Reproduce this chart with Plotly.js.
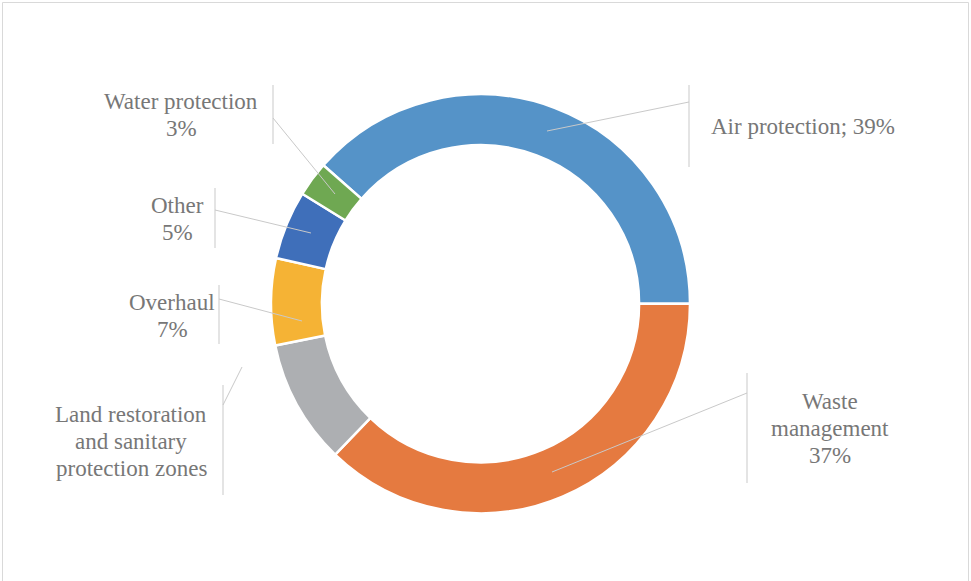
<!DOCTYPE html>
<html>
<head>
<meta charset="utf-8">
<script src="https://cdn.plot.ly/plotly-3.0.1.min.js"></script>
<style>html,body{margin:0;padding:0;background:#fff;}#chart{width:971px;height:581px;}</style>
</head>
<body>
<div id="chart"></div>
<script>
// ---- data ----
const categories = ["Air protection", "Waste management", "Land restoration and sanitary protection zones", "Overhaul", "Other", "Water protection"];
const shares = [38.5, 37.2, 9.6, 6.7, 5.3, 2.7];
const labelTexts = [
  "Air protection; 39%",
  "Waste<br>management<br>37%",
  "Land restoration<br>and sanitary<br>protection zones",
  "Overhaul<br>7%",
  "Other<br>5%",
  "Water protection<br>3%"
];
const colors = ["#5593C8", "#E57A40", "#ADAFB2", "#F5B335", "#3F6FBA", "#6FA852"];

// ---- layout helpers (pixel positions of callouts) ----
const W = 971, H = 581;
const px = x => x / W;
const py = y => 1 - y / H;
const callouts = [
  {cx: 710, cy: 126, xa: "left", bar: [689, 85, 167], from: [689, 102], to: [547, 131]},
  {cx: 830, cy: 428, xa: "center", bar: [747, 373, 483], from: [747, 393], to: [552, 472]},
  {cx: 131, cy: 441, xa: "center", bar: [223, 385, 495], from: [223, 405], to: [242, 367]},
  {cx: 172, cy: 316, xa: "center", bar: [219, 285, 344], from: [219, 299], to: [302, 321]},
  {cx: 177, cy: 219, xa: "center", bar: [215, 188, 248], from: [215, 210], to: [311, 233]},
  {cx: 181, cy: 115, xa: "center", bar: [273, 85, 144], from: [273, 118], to: [335, 194]}
];
const lineGap = 27;

const total = shares.reduce((a, b) => a + b, 0);
const rotation = 90 - shares[0] / total * 360;

const trace = {
  type: "pie",
  labels: categories,
  values: shares,
  sort: false,
  direction: "clockwise",
  rotation: rotation,
  hole: 0.757,
  textinfo: "none",
  hoverinfo: "none",
  showlegend: false,
  marker: {colors: colors, line: {color: "#ffffff", width: 2.5}},
  domain: {x: [271 / W, 690 / W], y: [(277.25 - 209.5) / H, (277.25 + 209.5) / H]}
};

const lineStyle = {color: "#c9c9c9", width: 1};
const shapes = [
  {type: "rect", xref: "paper", yref: "paper", x0: px(2.5), x1: px(968.5), y0: -0.05, y1: py(2.5),
   line: {color: "#d9d9d9", width: 1}, fillcolor: "rgba(0,0,0,0)"}
];
const annotations = [];
callouts.forEach((c, i) => {
  shapes.push({type: "line", xref: "paper", yref: "paper",
    x0: px(c.bar[0]), x1: px(c.bar[0]), y0: py(c.bar[1]), y1: py(c.bar[2]), line: lineStyle});
  shapes.push({type: "line", xref: "paper", yref: "paper",
    x0: px(c.from[0]), y0: py(c.from[1]), x1: px(c.to[0]), y1: py(c.to[1]), line: lineStyle});
  const lines = labelTexts[i].split("<br>");
  lines.forEach((t, k) => {
    annotations.push({
      xref: "paper", yref: "paper", x: px(c.cx), y: py(c.cy + (k - (lines.length - 1) / 2) * lineGap),
      xanchor: c.xa, yanchor: "middle", align: "center",
      text: t, showarrow: false, borderpad: 0,
      font: {family: "Liberation Serif", size: 23, color: "#777777"}
    });
  });
});

const layout = {
  width: W, height: H,
  margin: {l: 0, r: 0, t: 0, b: 0},
  paper_bgcolor: "#ffffff",
  font: {family: "Liberation Serif"},
  shapes: shapes,
  annotations: annotations
};

Plotly.newPlot("chart", [trace], layout, {displayModeBar: false, staticPlot: true});
</script>
</body>
</html>
